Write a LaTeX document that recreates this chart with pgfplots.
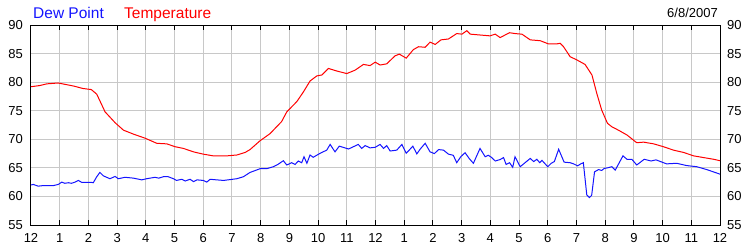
\documentclass[border=0pt]{standalone}
\usepackage{fontspec}
\setmainfont{Liberation Sans}
\usepackage{pgfplots}
\pgfplotsset{compat=1.18}
\definecolor{gridgray}{RGB}{200,200,200}
\definecolor{dpblue}{RGB}{20,20,255}
\definecolor{tred}{RGB}{255,0,0}
\begin{document}
\begin{tikzpicture}
\useasboundingbox (-31pt,-25pt) rectangle (719pt,225pt);
\begin{axis}[
  at={(0,0)}, anchor=south west,
  scale only axis, width=689pt, height=200pt,
  xmin=0, xmax=24, ymin=55, ymax=90,
  xtick={0,...,24},
  xticklabels={12,1,2,3,4,5,6,7,8,9,10,11,12,1,2,3,4,5,6,7,8,9,10,11,12},
  ytick={55,60,...,90},
  grid=major,
  grid style={gridgray, line width=1pt},
  axis line style={black, line width=1pt},
  x tick style={black, line width=1pt},
  xtick pos=both,
  major tick length=5pt,
  y tick style={draw=none},
  tick label style={font=\fontsize{13}{13}\selectfont, inner sep=0pt, text=black},
  xticklabel style={yshift=-8pt},
  yticklabel style={xshift=-8pt},
  /pgf/number format/assume math mode=true,
  clip mode=individual,
]
\addplot[tred, line width=1pt] coordinates {
(0,79.2)(0.3,79.4)(0.55,79.7)(0.94,79.85)(1.1,79.7)(1.5,79.3)(1.8,78.9)(2.1,78.7)
(2.29,77.9)(2.58,74.8)(2.93,72.9)(3.22,71.6)(3.57,70.9)(3.97,70.2)(4.38,69.3)(4.73,69.2)
(5.02,68.7)(5.31,68.4)(5.66,67.8)(6.0,67.4)(6.35,67.1)(6.82,67.1)(7.17,67.25)(7.46,67.7)
(7.63,68.2)(7.98,69.75)(8.33,71.0)(8.50,71.9)(8.73,73.1)(8.91,74.8)(9.26,76.6)(9.49,78.3)
(9.72,80.2)(9.96,81.1)(10.13,81.25)(10.36,82.4)(10.65,81.95)(11.0,81.5)(11.29,82.1)(11.58,83.1)
(11.81,82.9)(11.99,83.5)(12.16,83.0)(12.39,83.2)(12.68,84.6)(12.83,84.9)(13.07,84.2)(13.32,85.7)
(13.5,86.2)(13.73,86.1)(13.90,87.0)(14.08,86.6)(14.28,87.4)(14.54,87.55)(14.83,88.5)(15.01,88.4)
(15.18,89.0)(15.30,88.4)(15.64,88.25)(15.99,88.1)(16.17,88.4)(16.34,87.8)(16.67,88.65)(16.86,88.5)
(17.1,88.4)(17.39,87.4)(17.74,87.25)(18.02,86.7)(18.32,86.7)(18.43,86.8)(18.55,86.2)(18.78,84.45)
(19.01,83.9)(19.30,83.1)(19.54,81.25)(19.71,78.0)(19.88,75.1)(20.08,72.8)(20.23,72.2)(20.46,71.6)
(20.76,70.75)(21.1,69.4)(21.34,69.5)(21.69,69.2)(22.03,68.7)(22.38,68.1)(22.73,67.7)(23.08,67.1)
(23.43,66.8)(23.78,66.5)(24,66.25)
};
\addplot[dpblue, line width=1pt] coordinates {
(0,62.0)(0.08,62.1)(0.25,61.8)(0.43,61.9)(0.78,61.9)(0.95,62.1)(1.07,62.5)(1.18,62.3)
(1.3,62.4)(1.41,62.3)(1.53,62.5)(1.65,62.8)(1.77,62.45)(2.11,62.45)(2.17,62.4)(2.29,63.45)
(2.40,64.2)(2.52,63.6)(2.75,63.1)(2.93,63.5)(3.04,63.1)(3.28,63.35)(3.57,63.2)(3.86,62.9)
(4.03,63.1)(4.32,63.35)(4.45,63.2)(4.61,63.45)(4.78,63.45)(4.96,63.1)(5.07,62.8)(5.25,63.0)
(5.37,62.7)(5.54,63.0)(5.66,62.6)(5.78,62.9)(6.0,62.8)(6.12,62.5)(6.24,63.0)(6.47,62.9)
(6.71,62.8)(6.94,62.95)(7.17,63.1)(7.40,63.45)(7.63,64.2)(7.98,64.85)(8.21,64.85)(8.44,65.2)
(8.6,65.6)(8.79,66.25)(8.91,65.5)(9.08,65.9)(9.2,65.6)(9.31,66.2)(9.43,65.9)(9.51,66.95)
(9.61,65.8)(9.72,67.25)(9.83,66.85)(10.07,67.55)(10.3,68.1)(10.42,69.1)(10.59,67.8)(10.74,68.8)
(11.06,68.3)(11.23,68.7)(11.4,69.1)(11.52,68.4)(11.64,68.9)(11.81,68.5)(11.99,68.6)(12.16,69.1)
(12.28,68.4)(12.39,68.9)(12.51,67.95)(12.74,68.1)(12.92,69.1)(13.07,67.55)(13.21,68.3)(13.30,68.8)
(13.44,67.45)(13.56,68.3)(13.73,69.3)(13.9,67.8)(14.05,67.5)(14.2,68.2)(14.37,68.1)(14.54,67.4)
(14.71,67.2)(14.83,65.9)(14.97,66.95)(15.12,67.65)(15.27,66.6)(15.41,65.8)(15.64,68.4)(15.82,66.95)
(15.93,67.2)(16.05,66.8)(16.17,66.2)(16.34,66.45)(16.46,66.8)(16.55,65.6)(16.67,65.9)(16.78,65.1)
(16.86,66.95)(17.04,65.2)(17.39,66.65)(17.51,66.1)(17.62,66.5)(17.72,65.9)(17.80,66.3)(18.0,65.2)
(18.12,65.8)(18.23,66.1)(18.38,68.25)(18.57,66.0)(18.78,65.9)(18.9,65.7)(19.04,65.35)(19.15,65.7)
(19.24,65.9)(19.36,60.25)(19.45,59.8)(19.53,60.2)(19.63,64.3)(19.77,64.7)(19.88,64.55)(19.97,64.9)
(20.08,65.0)(20.23,65.2)(20.35,64.6)(20.62,67.1)(20.76,66.5)(20.93,66.5)(21.1,65.5)(21.36,66.5)
(21.6,66.2)(21.77,66.4)(22.14,65.7)(22.49,65.8)(22.84,65.4)(23.19,65.2)(23.54,64.7)(23.77,64.3)
(24,63.9)
};
\end{axis}
\begin{axis}[
  at={(0,0)}, anchor=south west,
  scale only axis, width=689pt, height=200pt,
  xmin=0, xmax=24, ymin=55, ymax=90,
  xtick=\empty,
  ytick={55,60,...,90},
  yticklabel pos=right,
  axis line style={draw=none},
  y tick style={draw=none},
  tick label style={font=\fontsize{13}{13}\selectfont, inner sep=0pt, text=black},
  yticklabel style={xshift=7pt},
  /pgf/number format/assume math mode=true,
  clip=false,
]
\node[anchor=base west, inner sep=0pt, text=dpblue, font=\fontsize{15.5}{15.5}\selectfont] at ([xshift=2pt,yshift=7pt]rel axis cs:0,1) {Dew Point};
\node[anchor=base west, inner sep=0pt, text=tred, font=\fontsize{15.5}{15.5}\selectfont] at ([xshift=93pt,yshift=7pt]rel axis cs:0,1) {Temperature};
\node[anchor=base east, inner sep=0pt, text=black, font=\fontsize{13}{13}\selectfont] at ([xshift=-2pt,yshift=7.7pt]rel axis cs:1,1) {6/8/2007};
\end{axis}
\end{tikzpicture}
\end{document}
